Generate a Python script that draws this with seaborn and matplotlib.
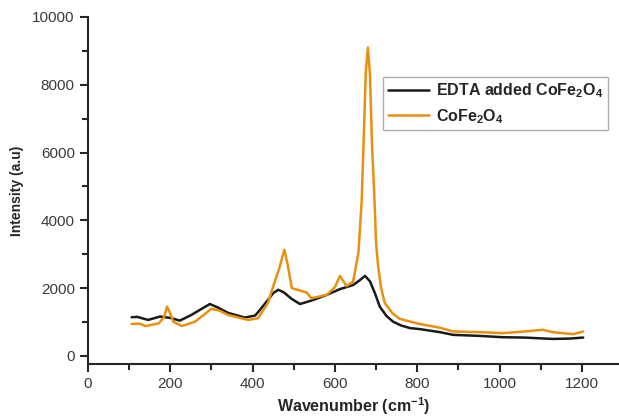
import matplotlib
matplotlib.use("Agg")
import matplotlib.pyplot as plt
import seaborn as sns
import pandas as pd

# Raman spectra
wn_edta = [106, 120, 146, 175, 200, 223, 250, 275, 296, 315, 340, 381, 406, 418, 437, 450,
           462, 475, 495, 515, 545, 580, 612, 644, 660, 673, 685, 697, 709, 725, 741,
           760, 782, 806, 855, 887, 950, 1008, 1060, 1129, 1170, 1203]
int_edta = [1140, 1150, 1060, 1160, 1120, 1040, 1200, 1380, 1530, 1430, 1270, 1130, 1190,
            1360, 1650, 1850, 1950, 1880, 1680, 1530, 1640, 1800, 1970, 2090, 2230, 2360,
            2200, 1850, 1450, 1180, 1010, 900, 820, 790, 700, 620, 590, 550, 540, 500, 510, 540]

wn_cofe = [106, 125, 140, 172, 185, 192, 200, 207, 228, 260, 280, 300, 320, 340, 389, 413,
           437, 450, 465, 477, 485, 495, 531, 543, 580, 600, 612, 628, 644, 657, 665, 670,
           675, 680, 685, 690, 695, 700, 705, 712, 721, 740, 758, 806, 855, 887, 950,
           1008, 1060, 1105, 1129, 1179, 1203]
int_cofe = [940, 950, 880, 960, 1150, 1450, 1250, 1010, 880, 1010, 1200, 1390, 1330, 1210,
            1060, 1110, 1560, 2050, 2600, 3130, 2700, 2000, 1870, 1700, 1800, 2030, 2360,
            2060, 2190, 3040, 4600, 6500, 8400, 9100, 8300, 6200, 4900, 3300, 2630, 2000,
            1560, 1250, 1090, 940, 830, 720, 700, 670, 720, 770, 700, 640, 720]

labels = ["EDTA added CoFe$_2$O$_4$", "CoFe$_2$O$_4$"]
colors = ["#1a1a1a", "#E8900F"]

df = pd.concat([
    pd.DataFrame({"wn": wn_edta, "intensity": int_edta, "sample": labels[0]}),
    pd.DataFrame({"wn": wn_cofe, "intensity": int_cofe, "sample": labels[1]}),
])

sns.set_style("ticks")
plt.rcParams["font.family"] = ["Liberation Sans", "DejaVu Sans"]
plt.rcParams["mathtext.default"] = "regular"

fig = plt.figure(figsize=(6.19, 4.16), dpi=100)
ax = fig.add_axes([88 / 619, 52 / 416, 1 - 88 / 619, (364 - 17) / 416])

sns.lineplot(data=df, x="wn", y="intensity", hue="sample", palette=colors,
             hue_order=labels, linewidth=1.8, sort=False, ax=ax)

ax.set_xlim(0, 1290)
ax.set_ylim(-240, 10000)
ax.set_xticks([0, 200, 400, 600, 800, 1000, 1200])
ax.set_xticks(range(100, 1300, 200), minor=True)
ax.set_yticks([0, 2000, 4000, 6000, 8000, 10000])
ax.set_yticks([1000, 3000, 5000, 7000, 9000], minor=True)
ax.tick_params(which="major", length=6, width=1.5, labelsize=11, labelcolor="#3a3a3a")
ax.tick_params(which="minor", length=4, width=1.5)
for s in ["left", "bottom"]:
    ax.spines[s].set_linewidth(1.5)
sns.despine(ax=ax)

ax.set_xlabel("Wavenumber (cm$^{-1}$)", fontsize=11.5, fontweight="bold", labelpad=3)
ax.set_ylabel("Intensity (a.u)", fontsize=10, fontweight="bold", labelpad=6)

leg = ax.legend(loc="upper left", bbox_to_anchor=(383 / 619, 1 - 77 / 416),
                bbox_transform=fig.transFigure, frameon=True, fancybox=False,
                prop={"weight": "bold", "size": 11.5}, handlelength=2.6,
                handletextpad=0.4, borderpad=0.3, labelspacing=0.4, borderaxespad=0)
leg.get_frame().set_edgecolor("#999999")
leg.get_frame().set_linewidth(1.0)

fig.savefig("out.png", dpi=100)
